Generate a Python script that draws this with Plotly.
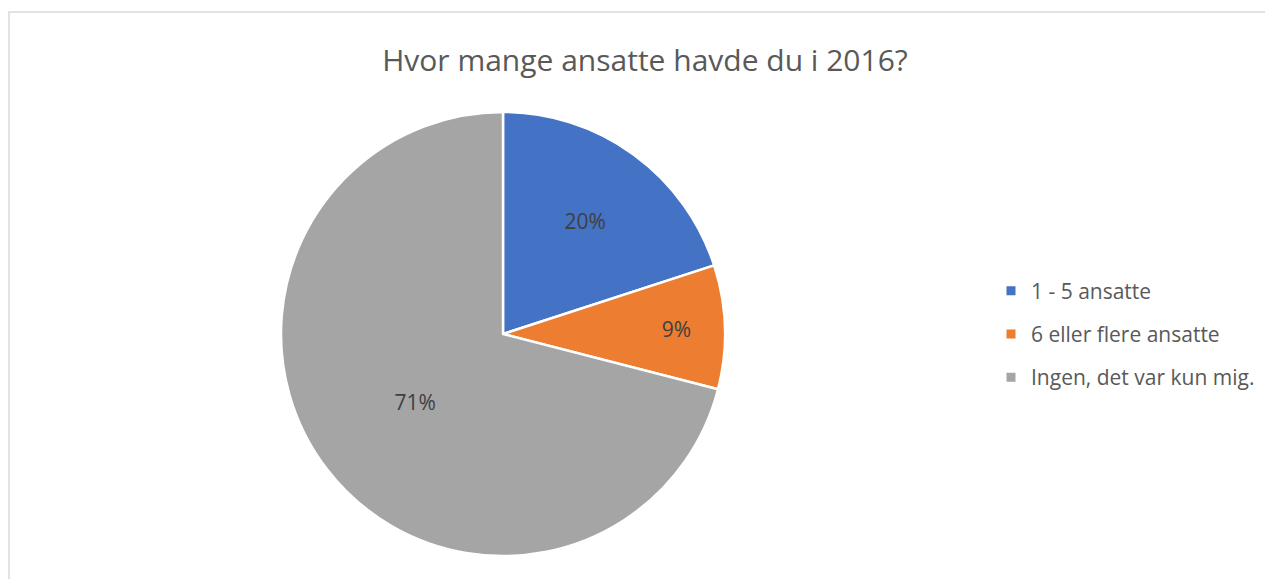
import plotly.graph_objects as go

W, H = 1273, 579

categories = ["1 - 5 ansatte", "6 eller flere ansatte", "Ingen, det var kun mig."]
values = [20, 9, 71]
colors = ["#4472C4", "#ED7D31", "#A5A5A5"]
title_text = "Hvor mange ansatte havde du i 2016?"

# page body has an 8px margin, so positions are in figure pixels
cx, cy, r = 495, 326, 222

fig = go.Figure()
fig.add_trace(go.Pie(
    labels=categories,
    values=values,
    sort=False,
    direction="clockwise",
    rotation=0,
    marker=dict(colors=colors, line=dict(color="white", width=2.5)),
    texttemplate="%{percent:.0%}",
    textposition="inside",
    insidetextorientation="horizontal",
    textfont=dict(family="Open Sans", size=21, color="#404040"),
    domain=dict(x=[(cx - r) / W, (cx + r) / W], y=[1 - (cy + r) / H, 1 - (cy - r) / H]),
    hoverinfo="label+percent",
    showlegend=False,
))

# legend entries (one group each so their spacing can be set)
for i, (lab, col) in enumerate(zip(categories, colors)):
    fig.add_trace(go.Scatter(
        x=[None], y=[None], mode="markers", name=lab,
        marker=dict(symbol="square", size=9, color=col),
        legendgroup=f"g{i}", showlegend=True, hoverinfo="skip",
    ))

fig.update_layout(
    width=W, height=H,
    margin=dict(l=0, r=0, t=0, b=0),
    paper_bgcolor="white",
    plot_bgcolor="white",
    xaxis=dict(visible=False, domain=[0.9, 0.95]),
    yaxis=dict(visible=False, domain=[0.9, 0.95]),
    title=dict(text=title_text, x=637 / W, xanchor="center", y=1 - 52 / H, yanchor="middle",
               font=dict(family="Open Sans", size=30, color="#595959")),
    legend=dict(x=983 / W, xanchor="left", y=1 - 326 / H, yanchor="middle",
                font=dict(family="Open Sans", size=21, color="#595959"),
                itemwidth=30, tracegroupgap=13, bgcolor="rgba(0,0,0,0)"),
    shapes=[dict(type="rect", xref="paper", yref="paper",
                 x0=1 / W, x1=1 + 10 / W, y0=-10 / H, y1=1 - 4 / H,
                 line=dict(color="#D9D9D9", width=1.5), fillcolor="rgba(0,0,0,0)", layer="below")],
)

fig.write_html("out.html")
